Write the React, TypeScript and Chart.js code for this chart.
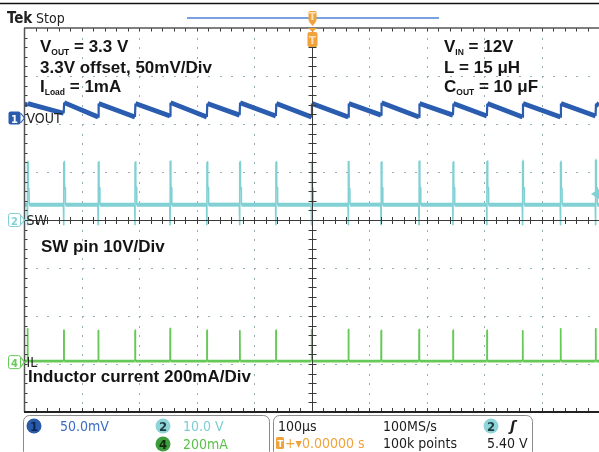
import { useEffect, useRef } from 'react';
import { Chart, registerables } from 'chart.js';

Chart.register(...registerables);

// ---- time base (µs), 100 µs/div, trigger at centre ----
const timeMinUs = -500;
const timeMaxUs = 500;
const usPerDiv = 100;

// switching events (µs) read from the SW / IL spikes
const switchTimesUs = [-494, -431, -371, -307, -246, -182, -125, -62, 0, 64, 121, 187, 246, 305, 367, 433, 494];

// CH1 VOUT (mV relative to 3.3 V offset, 50 mV/div)
const voutPeakMv = [15, 16, 15, 15, 16, 15, 16, 15, 15, 15, 16, 15, 15, 15, 15, 15, 15];
const voutTroughMv = [14, 5, 1, 1, 2, 1, 3, 2, 1, 1, 3, 1, 3, 2, 1, 1, 2];
const voutEndMv = 13;

// CH2 SW node (V, 10 V/div)
const swPeakV = [12.1, 12.1, 12.1, 12.1, 12.3, 12.1, 12.1, 12.1, 12.1, 12.3, 12.1, 12.3, 12.1, 12.3, 12.3, 12.1, 12.5];
const swBaseV = 3.2;
const swRingV = 6.7;
const swUndershootV = -1.0;

// CH4 inductor current (mA, 200 mA/div)
const ilPeakMa = [137, 129, 129, 129, 137, 129, 129, 129, 133, 133, 129, 133, 129, 129, 129, 137, 137];
const ilBaseMa = 0;

// channel scale settings: units per div, reference position (div above centre)
const ch1MvPerDiv = 50;
const ch1PosDiv = 2.125;
const ch2VPerDiv = 10;
const ch2PosDiv = 0;
const ch4MaPerDiv = 200;
const ch4PosDiv = -2.94;
const triggerLevelV = 5.4;

const COLORS = {
  ch1: '#2a5caf',
  ch2: '#80d0d4',
  ch4: '#66c957',
  text: '#151515',
  orange: '#f2a23a',
};

const annotFont = (px: number) => `bold ${px}px "Liberation Sans", Arial, sans-serif`;
const scopeFont = (px: number, bold = false) =>
  `${bold ? 'bold ' : ''}${px}px "DejaVu Sans Condensed", "Liberation Sans Narrow", Roboto, sans-serif`;

type Pt = { x: number; y: number };

function buildVout(): Pt[] {
  const pts: Pt[] = [{ x: timeMinUs, y: voutTroughMv[0] }];
  switchTimesUs.forEach((t, i) => {
    pts.push({ x: t, y: voutTroughMv[i] });
    pts.push({ x: t + 0.8, y: voutPeakMv[i] });
  });
  pts.push({ x: timeMaxUs, y: voutEndMv });
  return pts;
}

function buildSw(): Pt[] {
  const pts: Pt[] = [{ x: timeMinUs, y: swBaseV }];
  switchTimesUs.forEach((t, i) => {
    pts.push({ x: t - 0.5, y: swBaseV });
    pts.push({ x: t, y: swUndershootV });
    pts.push({ x: t + 0.3, y: swPeakV[i] });
    pts.push({ x: t + 1.0, y: swPeakV[i] });
    pts.push({ x: t + 1.4, y: swRingV });
    pts.push({ x: t + 2.6, y: swRingV });
    pts.push({ x: t + 3.0, y: swBaseV });
  });
  pts.push({ x: timeMaxUs, y: swBaseV });
  return pts;
}

function buildIl(): Pt[] {
  const pts: Pt[] = [{ x: timeMinUs, y: ilBaseMa }];
  switchTimesUs.forEach((t, i) => {
    pts.push({ x: t - 0.3, y: ilBaseMa });
    pts.push({ x: t, y: ilPeakMa[i] });
    pts.push({ x: t + 0.6, y: ilPeakMa[i] });
    pts.push({ x: t + 1.0, y: ilBaseMa });
  });
  pts.push({ x: timeMaxUs, y: ilBaseMa });
  return pts;
}

function drawSubText(ctx: CanvasRenderingContext2D, x: number, y: number, parts: [string, boolean][]) {
  let cx = x;
  for (const [txt, sub] of parts) {
    ctx.font = sub ? annotFont(8.5) : annotFont(17);
    ctx.fillText(txt, cx, sub ? y + 2.5 : y);
    cx += ctx.measureText(txt).width;
  }
}

function chMarker(ctx: CanvasRenderingContext2D, y: number, num: string, color: string, filled: boolean, label: string) {
  ctx.save();
  ctx.beginPath();
  ctx.roundRect(8.5, y - 6.5, 12, 13, 2);
  if (filled) {
    ctx.fillStyle = color;
    ctx.fill();
  } else {
    ctx.strokeStyle = color;
    ctx.lineWidth = 1;
    ctx.stroke();
  }
  ctx.fillStyle = filled ? '#ffffff' : color;
  ctx.font = scopeFont(11, true);
  ctx.textAlign = 'center';
  ctx.fillText(num, 14.5, y + 4.5);
  ctx.beginPath();
  ctx.moveTo(20.5, y - 5);
  ctx.lineTo(24.5, y);
  ctx.lineTo(20.5, y + 5);
  ctx.strokeStyle = color;
  ctx.lineWidth = 1.2;
  ctx.stroke();
  ctx.textAlign = 'left';
  ctx.fillStyle = '#222';
  ctx.font = scopeFont(14);
  ctx.fillText(label, 26.5, y + 5);
  ctx.restore();
}

function badge(ctx: CanvasRenderingContext2D, cx: number, cy: number, num: string, fill: string, txt: string) {
  ctx.beginPath();
  ctx.ellipse(cx, cy, 7.5, 7.5, 0, 0, Math.PI * 2);
  ctx.fillStyle = fill;
  ctx.fill();
  ctx.fillStyle = txt;
  ctx.font = scopeFont(13, true);
  ctx.textAlign = 'center';
  ctx.fillText(num, cx, cy + 5);
  ctx.textAlign = 'left';
}

const graticulePlugin = {
  id: 'graticule',
  beforeDatasetsDraw(chart: any) {
    const { ctx, scales } = chart;
    const xs = scales.x;
    const ys = scales.ySW;
    ctx.save();
    ctx.fillStyle = '#97adb5';
    const divV = ch2VPerDiv;
    for (let i = 1; i < 10; i++) {
      if (i === 5) continue;
      const px = Math.round(xs.getPixelForValue(timeMinUs + i * usPerDiv));
      for (let k = 1; k < 40; k++) {
        const py = Math.round(ys.getPixelForValue(-4 * divV + (k * divV) / 5));
        ctx.fillRect(px, py, 1, 2);
      }
    }
    for (let j = 1; j < 8; j++) {
      if (j === 4) continue;
      const py = Math.round(ys.getPixelForValue(-4 * divV + j * divV));
      for (let k = 1; k < 50; k++) {
        const px = Math.round(xs.getPixelForValue(timeMinUs + (k * usPerDiv) / 5));
        ctx.fillRect(px, py, 2, 1);
      }
    }
    ctx.restore();
  },
  afterDatasetsDraw(chart: any) {
    const { ctx, chartArea: a, scales } = chart;
    const xs = scales.x;
    const ys = scales.ySW;
    const cx = Math.round(xs.getPixelForValue(0)) + 0.5;
    const cy = Math.round(ys.getPixelForValue(0)) + 0.5;
    ctx.save();
    ctx.strokeStyle = '#3a3a3a';
    ctx.lineWidth = 1;
    ctx.beginPath();
    ctx.moveTo(cx, a.top);
    ctx.lineTo(cx, a.bottom);
    ctx.moveTo(a.left, cy);
    ctx.lineTo(a.right, cy);
    for (let k = 1; k < 50; k++) {
      const px = Math.round(xs.getPixelForValue(timeMinUs + (k * usPerDiv) / 5)) + 0.5;
      ctx.moveTo(px, cy - 3.5);
      ctx.lineTo(px, cy + 3.5);
      ctx.moveTo(px, a.top);
      ctx.lineTo(px, a.top + 3.5);
      ctx.moveTo(px, a.bottom);
      ctx.lineTo(px, a.bottom - 4);
    }
    for (let k = 1; k < 40; k++) {
      const py = Math.round(ys.getPixelForValue(-4 * ch2VPerDiv + (k * ch2VPerDiv) / 5)) + 0.5;
      ctx.moveTo(cx - 4, py);
      ctx.lineTo(cx + 4, py);
      ctx.moveTo(a.left, py);
      ctx.lineTo(a.left + 3.5, py);
    }
    ctx.stroke();
    // frame edges
    ctx.strokeStyle = '#555';
    ctx.lineWidth = 1.5;
    ctx.beginPath();
    ctx.moveTo(a.left, a.top);
    ctx.lineTo(a.right, a.top);
    ctx.moveTo(a.left + 0.5, a.top);
    ctx.lineTo(a.left + 0.5, a.bottom);
    ctx.stroke();
    ctx.strokeStyle = '#222';
    ctx.lineWidth = 2;
    ctx.beginPath();
    ctx.moveTo(a.left, a.bottom);
    ctx.lineTo(a.right, a.bottom);
    ctx.stroke();

    // trigger level arrow (right edge)
    const ty = scales.ySW.getPixelForValue(triggerLevelV);
    ctx.fillStyle = COLORS.ch2;
    ctx.beginPath();
    ctx.moveTo(591, ty);
    ctx.lineTo(599, ty - 5);
    ctx.lineTo(599, ty + 5);
    ctx.closePath();
    ctx.fill();

    // channel reference markers
    chMarker(ctx, scales.yV.getPixelForValue(0), '1', COLORS.ch1, true, 'VOUT');
    chMarker(ctx, scales.ySW.getPixelForValue(0), '2', COLORS.ch2, false, 'SW');
    chMarker(ctx, scales.yIL.getPixelForValue(0) + 1, '4', COLORS.ch4, false, 'IL');
    ctx.restore();
  },
  afterDraw(chart: any) {
    const { ctx, scales } = chart;
    const cx = Math.round(scales.x.getPixelForValue(0)) + 0.5;
    ctx.save();
    // top rule
    ctx.strokeStyle = '#111';
    ctx.lineWidth = 1.5;
    ctx.beginPath();
    ctx.moveTo(0, 3.5);
    ctx.lineTo(599, 3.5);
    ctx.stroke();
    // Tek Stop
    ctx.fillStyle = '#222';
    ctx.font = scopeFont(15, true);
    ctx.fillText('Tek', 7, 23);
    ctx.font = scopeFont(14);
    ctx.fillText('Stop', 36, 23);
    // record bar
    ctx.strokeStyle = '#4d82d6';
    ctx.lineWidth = 1.5;
    ctx.beginPath();
    ctx.moveTo(187, 18);
    ctx.lineTo(439, 18);
    ctx.stroke();
    // trigger position markers
    ctx.fillStyle = COLORS.orange;
    ctx.beginPath();
    ctx.roundRect(cx - 4, 11, 8, 10, 1.5);
    ctx.fill();
    ctx.beginPath();
    ctx.moveTo(cx - 4, 21);
    ctx.lineTo(cx + 4, 21);
    ctx.lineTo(cx, 26);
    ctx.closePath();
    ctx.fill();
    ctx.beginPath();
    ctx.moveTo(cx - 4.5, 28);
    ctx.lineTo(cx + 4.5, 28);
    ctx.lineTo(cx, 32);
    ctx.closePath();
    ctx.fill();
    ctx.beginPath();
    ctx.roundRect(cx - 5, 32, 10, 15, 2);
    ctx.fill();
    ctx.fillStyle = '#fde2b8';
    ctx.font = scopeFont(11, true);
    ctx.textAlign = 'center';
    ctx.fillText('T', cx, 44);
    ctx.fillText('T', cx, 20);
    ctx.textAlign = 'left';

    // annotations
    ctx.fillStyle = COLORS.text;
    drawSubText(ctx, 40, 52, [['V', false], ['OUT', true], [' = 3.3 V', false]]);
    drawSubText(ctx, 40, 72.5, [['3.3V offset, 50mV/Div', false]]);
    drawSubText(ctx, 40, 92, [['I', false], ['Load', true], [' = 1mA', false]]);
    drawSubText(ctx, 444, 52, [['V', false], ['IN', true], [' = 12V', false]]);
    drawSubText(ctx, 444, 72.5, [['L = 15 μH', false]]);
    drawSubText(ctx, 444, 92, [['C', false], ['OUT', true], [' = 10 μF', false]]);
    drawSubText(ctx, 41, 252, [['SW pin 10V/Div', false]]);
    drawSubText(ctx, 28, 382, [['Inductor current 200mA/Div', false]]);

    // bottom panel
    ctx.strokeStyle = '#8a8a8a';
    ctx.lineWidth = 1;
    ctx.beginPath();
    ctx.roundRect(23.5, 415.5, 246, 42, 6);
    ctx.stroke();
    ctx.beginPath();
    ctx.roundRect(273.5, 415.5, 259, 42, 6);
    ctx.stroke();

    badge(ctx, 34, 426, '1', '#2b5aa8', '#0d2456');
    ctx.font = scopeFont(14);
    ctx.fillStyle = '#3a6cc6';
    ctx.fillText('50.0mV', 60, 431);
    badge(ctx, 163, 426, '2', '#8fd4d8', '#1d3d40');
    ctx.font = scopeFont(14);
    ctx.fillStyle = '#7dcdd2';
    ctx.fillText('10.0 V', 183, 431);
    badge(ctx, 163, 444, '4', '#3f9e3c', '#0f2a0f');
    ctx.font = scopeFont(14);
    ctx.fillStyle = '#5cbf4a';
    ctx.fillText('200mA', 183, 449);

    ctx.fillStyle = '#1c1c1c';
    ctx.font = scopeFont(14);
    ctx.fillText('100µs', 278, 431);
    ctx.fillText('100MS/s', 383, 431);
    ctx.fillText('100k points', 383, 448);
    ctx.fillText('5.40 V', 487, 448);
    badge(ctx, 491, 426, '2', '#8fd4d8', '#1d3d40');
    ctx.fillStyle = '#1c1c1c';
    ctx.font = 'bold italic 14px "DejaVu Sans", sans-serif';
    ctx.fillText('ʃ', 510, 431);

    ctx.fillStyle = COLORS.orange;
    ctx.beginPath();
    ctx.roundRect(276, 437, 8, 12, 1.5);
    ctx.fill();
    ctx.fillStyle = '#fff';
    ctx.font = scopeFont(9, true);
    ctx.fillText('T', 277.5, 447);
    ctx.fillStyle = COLORS.orange;
    ctx.font = scopeFont(14);
    ctx.fillText('+▾0.00000 s', 285, 448);
    ctx.restore();
  },
};

export default function App() {
  const canvasRef = useRef<HTMLCanvasElement | null>(null);

  useEffect(() => {
    const canvas = canvasRef.current;
    if (!canvas) return;
    const flatThick = (thick: number, thin: number) => (c: any) =>
      Math.abs(c.p0.y - c.p1.y) < 0.6 ? thick : thin;
    const chart = new Chart(canvas, {
      type: 'line',
      data: {
        datasets: [
          {
            label: 'VOUT',
            data: buildVout(),
            yAxisID: 'yV',
            borderColor: COLORS.ch1,
            borderWidth: 4.8,
            pointRadius: 0,
            tension: 0,
            borderJoinStyle: 'round',
            segment: { borderWidth: (c: any) => (Math.abs(c.p0.x - c.p1.x) < 1.5 ? 2.2 : 4.8) },
          },
          {
            label: 'SW',
            data: buildSw(),
            yAxisID: 'ySW',
            borderColor: COLORS.ch2,
            borderWidth: 1.6,
            pointRadius: 0,
            tension: 0,
            borderJoinStyle: 'round',
            segment: { borderWidth: flatThick(4, 1.6) },
          },
          {
            label: 'IL',
            data: buildIl(),
            yAxisID: 'yIL',
            borderColor: COLORS.ch4,
            borderWidth: 1.3,
            pointRadius: 0,
            tension: 0,
            borderJoinStyle: 'round',
            segment: { borderWidth: flatThick(2.8, 1.3) },
          },
        ],
      } as any,
      options: {
        animation: false,
        responsive: false,
        maintainAspectRatio: false,
        devicePixelRatio: 1,
        parsing: false,
        events: [],
        layout: { padding: { left: 24, top: 28, right: -2, bottom: 40 } },
        plugins: { legend: { display: false }, tooltip: { enabled: false } },
        scales: {
          x: { type: 'linear', min: timeMinUs, max: timeMaxUs, display: false },
          yV: {
            type: 'linear',
            display: false,
            min: (-4 - ch1PosDiv) * ch1MvPerDiv,
            max: (4 - ch1PosDiv) * ch1MvPerDiv,
          },
          ySW: {
            type: 'linear',
            display: false,
            min: (-4 - ch2PosDiv) * ch2VPerDiv,
            max: (4 - ch2PosDiv) * ch2VPerDiv,
          },
          yIL: {
            type: 'linear',
            display: false,
            min: (-4 - ch4PosDiv) * ch4MaPerDiv,
            max: (4 - ch4PosDiv) * ch4MaPerDiv,
          },
        },
      } as any,
      plugins: [graticulePlugin],
    });
    return () => chart.destroy();
  }, []);

  return (
    <div style={{ position: 'fixed', left: 0, top: 0, width: 599, height: 452, background: '#fff' }}>
      <canvas ref={canvasRef} width={599} height={452} style={{ display: 'block', width: 599, height: 452 }} />
    </div>
  );
}
